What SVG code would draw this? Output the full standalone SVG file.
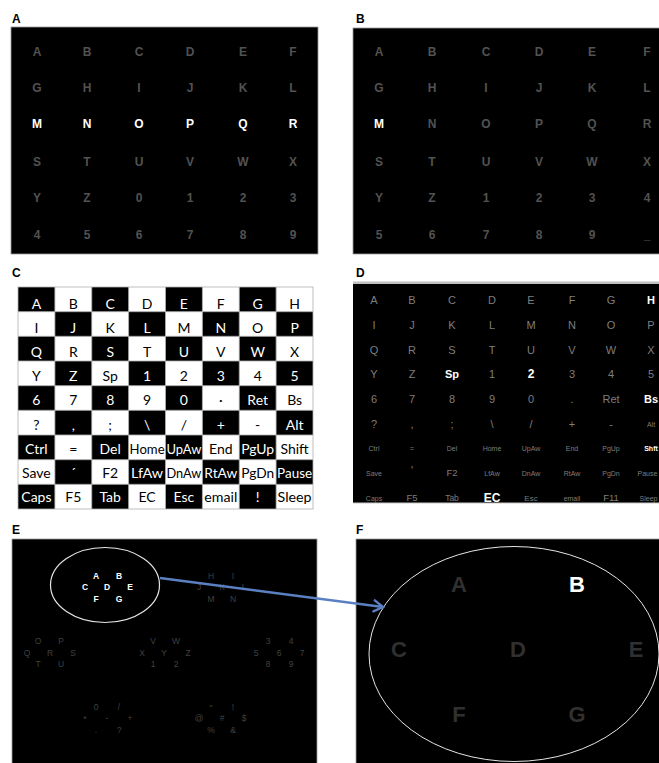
<svg xmlns="http://www.w3.org/2000/svg" width="659" height="763" viewBox="0 0 659 763">
<style>
.lbl{font-family:"Liberation Sans",Arial,sans-serif;font-weight:bold;font-size:12px;fill:#000}
.ab{font-family:"Liberation Sans",Arial,sans-serif;font-weight:bold;font-size:12px;text-anchor:middle}
.dimA{fill:#525252}
.hi{fill:#fff}
.c{font-family:Lato,"Liberation Sans",sans-serif;font-size:14px;text-anchor:middle}
.cw{fill:#fff}
.cb{fill:#000}
.d{font-family:"Liberation Sans",Arial,sans-serif;font-size:11px;text-anchor:middle;fill:#7e7e7e}
.ds{font-size:7px}
.dm{font-size:9.5px}
.dh{fill:#fff;font-weight:bold}
.e{font-family:"Liberation Sans",Arial,sans-serif;font-size:8.5px;text-anchor:middle;fill:#404040}
.eh{fill:#fff;font-weight:bold}
.f{font-family:"Liberation Sans",Arial,sans-serif;font-size:22px;font-weight:bold;text-anchor:middle;fill:#303030}
.panel{fill:#000;stroke:#9a9a9a;stroke-width:0.8}
</style>
<defs>
<marker id="arr" markerUnits="userSpaceOnUse" markerWidth="14" markerHeight="14" refX="11" refY="7" orient="auto">
<path d="M2,1.5 L11,7 L2,12.5" fill="none" stroke="#5b80c2" stroke-width="2.4" stroke-linecap="round"/>
</marker>
</defs>
<rect width="659" height="763" fill="#fff"/>

<g id="panelA">
<text class="lbl" x="12" y="23">A</text>
<rect class="panel" x="11" y="27" width="307" height="227"/>
<g class="ab dimA">
<text x="37" y="56">A</text><text x="87" y="56">B</text><text x="139" y="56">C</text><text x="190" y="56">D</text><text x="243" y="56">E</text><text x="293" y="56">F</text>
<text x="37" y="92">G</text><text x="87" y="92">H</text><text x="139" y="92">I</text><text x="190" y="92">J</text><text x="243" y="92">K</text><text x="293" y="92">L</text>
<text x="37" y="166">S</text><text x="87" y="166">T</text><text x="139" y="166">U</text><text x="190" y="166">V</text><text x="243" y="166">W</text><text x="293" y="166">X</text>
<text x="37" y="202">Y</text><text x="87" y="202">Z</text><text x="139" y="202">0</text><text x="190" y="202">1</text><text x="243" y="202">2</text><text x="293" y="202">3</text>
<text x="37" y="239">4</text><text x="87" y="239">5</text><text x="139" y="239">6</text><text x="190" y="239">7</text><text x="243" y="239">8</text><text x="293" y="239">9</text>
</g>
<g class="ab hi">
<text x="37" y="128">M</text><text x="87" y="128">N</text><text x="139" y="128">O</text><text x="190" y="128">P</text><text x="243" y="128">Q</text><text x="293" y="128">R</text>
</g>
</g>

<g id="panelB">
<text class="lbl" x="356" y="23">B</text>
<rect class="panel" x="353" y="28" width="310" height="226"/>
<g class="ab dimA">
<text x="379" y="56">A</text><text x="432" y="56">B</text><text x="486" y="56">C</text><text x="539" y="56">D</text><text x="592" y="56">E</text><text x="647" y="56">F</text>
<text x="379" y="92">G</text><text x="432" y="92">H</text><text x="486" y="92">I</text><text x="539" y="92">J</text><text x="592" y="92">K</text><text x="647" y="92">L</text>
<text x="432" y="128">N</text><text x="486" y="128">O</text><text x="539" y="128">P</text><text x="592" y="128">Q</text><text x="647" y="128">R</text>
<text x="379" y="166">S</text><text x="432" y="166">T</text><text x="486" y="166">U</text><text x="539" y="166">V</text><text x="592" y="166">W</text><text x="647" y="166">X</text>
<text x="379" y="202">Y</text><text x="432" y="202">Z</text><text x="486" y="202">1</text><text x="539" y="202">2</text><text x="592" y="202">3</text><text x="647" y="202">4</text>
<text x="379" y="239">5</text><text x="432" y="239">6</text><text x="486" y="239">7</text><text x="539" y="239">8</text><text x="592" y="239">9</text><text x="647" y="239">_</text>
</g>
<text class="ab hi" x="379" y="128">M</text>
</g>

<g id="panelC">
<text class="lbl" x="12" y="277">C</text>
<rect x="18" y="287" width="295" height="222" fill="#fff"/>
<g fill="#000">
<rect x="18" y="287" width="36.9" height="24.7"/><rect x="91.75" y="287" width="36.9" height="24.7"/><rect x="165.5" y="287" width="36.9" height="24.7"/><rect x="239.25" y="287" width="36.9" height="24.7"/>
<rect x="54.9" y="311.7" width="36.9" height="24.7"/><rect x="128.6" y="311.7" width="36.9" height="24.7"/><rect x="202.4" y="311.7" width="36.9" height="24.7"/><rect x="276.1" y="311.7" width="36.9" height="24.7"/>
<rect x="18" y="336.3" width="36.9" height="24.7"/><rect x="91.75" y="336.3" width="36.9" height="24.7"/><rect x="165.5" y="336.3" width="36.9" height="24.7"/><rect x="239.25" y="336.3" width="36.9" height="24.7"/>
<rect x="54.9" y="361" width="36.9" height="24.7"/><rect x="128.6" y="361" width="36.9" height="24.7"/><rect x="202.4" y="361" width="36.9" height="24.7"/><rect x="276.1" y="361" width="36.9" height="24.7"/>
<rect x="18" y="385.7" width="36.9" height="24.7"/><rect x="91.75" y="385.7" width="36.9" height="24.7"/><rect x="165.5" y="385.7" width="36.9" height="24.7"/><rect x="239.25" y="385.7" width="36.9" height="24.7"/>
<rect x="54.9" y="410.3" width="36.9" height="24.7"/><rect x="128.6" y="410.3" width="36.9" height="24.7"/><rect x="202.4" y="410.3" width="36.9" height="24.7"/><rect x="276.1" y="410.3" width="36.9" height="24.7"/>
<rect x="18" y="435" width="36.9" height="24.7"/><rect x="91.75" y="435" width="36.9" height="24.7"/><rect x="165.5" y="435" width="36.9" height="24.7"/><rect x="239.25" y="435" width="36.9" height="24.7"/>
<rect x="54.9" y="459.7" width="36.9" height="24.7"/><rect x="128.6" y="459.7" width="36.9" height="24.7"/><rect x="202.4" y="459.7" width="36.9" height="24.7"/><rect x="276.1" y="459.7" width="36.9" height="24.7"/>
<rect x="18" y="484.3" width="36.9" height="24.7"/><rect x="91.75" y="484.3" width="36.9" height="24.7"/><rect x="165.5" y="484.3" width="36.9" height="24.7"/><rect x="239.25" y="484.3" width="36.9" height="24.7"/>
</g>
<g stroke="#b0b0b0" stroke-width="0.8" fill="none">
<rect x="18" y="287" width="295" height="222"/>
<path d="M54.9,287V509M91.75,287V509M128.6,287V509M165.5,287V509M202.4,287V509M239.25,287V509M276.1,287V509M18,311.7H313M18,336.3H313M18,361H313M18,385.7H313M18,410.3H313M18,435H313M18,459.7H313M18,484.3H313"/>
</g>
<g class="c">
<text class="cw" x="36.4" y="309">A</text><text class="cb" x="73.3" y="309">B</text><text class="cw" x="110.2" y="309">C</text><text class="cb" x="147.1" y="309">D</text><text class="cw" x="183.9" y="309">E</text><text class="cb" x="220.8" y="309">F</text><text class="cw" x="257.7" y="309">G</text><text class="cb" x="294.6" y="309">H</text>
<text class="cb" x="36.4" y="333">I</text><text class="cw" x="73.3" y="333">J</text><text class="cb" x="110.2" y="333">K</text><text class="cw" x="147.1" y="333">L</text><text class="cb" x="183.9" y="333">M</text><text class="cw" x="220.8" y="333">N</text><text class="cb" x="257.7" y="333">O</text><text class="cw" x="294.6" y="333">P</text>
<text class="cw" x="36.4" y="357">Q</text><text class="cb" x="73.3" y="357">R</text><text class="cw" x="110.2" y="357">S</text><text class="cb" x="147.1" y="357">T</text><text class="cw" x="183.9" y="357">U</text><text class="cb" x="220.8" y="357">V</text><text class="cw" x="257.7" y="357">W</text><text class="cb" x="294.6" y="357">X</text>
<text class="cb" x="36.4" y="381">Y</text><text class="cw" x="73.3" y="381">Z</text><text class="cb" x="110.2" y="381">Sp</text><text class="cw" x="147.1" y="381">1</text><text class="cb" x="183.9" y="381">2</text><text class="cw" x="220.8" y="381">3</text><text class="cb" x="257.7" y="381">4</text><text class="cw" x="294.6" y="381">5</text>
<text class="cw" x="36.4" y="405">6</text><text class="cb" x="73.3" y="405">7</text><text class="cw" x="110.2" y="405">8</text><text class="cb" x="147.1" y="405">9</text><text class="cw" x="183.9" y="405">0</text><text class="cb" x="220.8" y="405">·</text><text class="cw" x="257.7" y="405">Ret</text><text class="cb" x="294.6" y="405">Bs</text>
<text class="cb" x="36.4" y="430">?</text><text class="cw" x="73.3" y="430">,</text><text class="cb" x="110.2" y="430">;</text><text class="cw" x="147.1" y="430">\</text><text class="cb" x="183.9" y="430">/</text><text class="cw" x="220.8" y="430">+</text><text class="cb" x="257.7" y="430">-</text><text class="cw" x="294.6" y="430">Alt</text>
<text class="cw" x="36.4" y="454">Ctrl</text><text class="cb" x="73.3" y="454">=</text><text class="cw" x="110.2" y="454">Del</text><text class="cb" x="147.1" y="454" textLength="35" lengthAdjust="spacingAndGlyphs">Home</text><text class="cw" x="183.9" y="454" textLength="35" lengthAdjust="spacingAndGlyphs">UpAw</text><text class="cb" x="220.8" y="454">End</text><text class="cw" x="257.7" y="454" textLength="33" lengthAdjust="spacingAndGlyphs">PgUp</text><text class="cb" x="294.6" y="454">Shift</text>
<text class="cb" x="36.4" y="478">Save</text><text class="cw" x="73.3" y="478">´</text><text class="cb" x="110.2" y="478">F2</text><text class="cw" x="147.1" y="478" textLength="32" lengthAdjust="spacingAndGlyphs">LfAw</text><text class="cb" x="183.9" y="478" textLength="35" lengthAdjust="spacingAndGlyphs">DnAw</text><text class="cw" x="220.8" y="478" textLength="33" lengthAdjust="spacingAndGlyphs">RtAw</text><text class="cb" x="257.7" y="478" textLength="33" lengthAdjust="spacingAndGlyphs">PgDn</text><text class="cw" x="294.6" y="478" textLength="35" lengthAdjust="spacingAndGlyphs">Pause</text>
<text class="cw" x="36.4" y="502">Caps</text><text class="cb" x="73.3" y="502">F5</text><text class="cw" x="110.2" y="502">Tab</text><text class="cb" x="147.1" y="502">EC</text><text class="cw" x="183.9" y="502">Esc</text><text class="cb" x="220.8" y="502" textLength="33" lengthAdjust="spacingAndGlyphs">email</text><text class="cw" x="257.7" y="502">!</text><text class="cb" x="294.6" y="502" textLength="34" lengthAdjust="spacingAndGlyphs">Sleep</text>
</g>
</g>

<g id="panelD">
<text class="lbl" x="356" y="277">D</text>
<rect x="353" y="283" width="310" height="220" fill="#000"/>
<rect x="353" y="281.5" width="310" height="2.5" fill="#c0c0c0"/>
<g class="d">
<text x="374" y="304">A</text><text x="412" y="304">B</text><text x="452" y="304">C</text><text x="492" y="304">D</text><text x="531" y="304">E</text><text x="572" y="304">F</text><text x="611" y="304">G</text>
<text x="374" y="329">I</text><text x="412" y="329">J</text><text x="452" y="329">K</text><text x="492" y="329">L</text><text x="531" y="329">M</text><text x="572" y="329">N</text><text x="611" y="329">O</text><text x="651" y="329">P</text>
<text x="374" y="354">Q</text><text x="412" y="354">R</text><text x="452" y="354">S</text><text x="492" y="354">T</text><text x="531" y="354">U</text><text x="572" y="354">V</text><text x="611" y="354">W</text><text x="651" y="354">X</text>
<text x="374" y="378">Y</text><text x="412" y="378">Z</text><text x="492" y="378">1</text><text x="572" y="378">3</text><text x="611" y="378">4</text><text x="651" y="378">5</text>
<text x="374" y="403">6</text><text x="412" y="403">7</text><text x="452" y="403">8</text><text x="492" y="403">9</text><text x="531" y="403">0</text><text x="572" y="403">.</text><text x="611" y="403">Ret</text>
<text x="374" y="428">?</text><text x="412" y="428">,</text><text x="452" y="428">;</text><text x="492" y="428">\</text><text x="531" y="428">/</text><text x="572" y="428">+</text><text x="611" y="428">-</text><text class="ds" x="651" y="427">Alt</text>
<text class="ds" x="374" y="451">Ctrl</text><text class="ds" x="412" y="451">=</text><text class="ds" x="452" y="451">Del</text><text class="ds" x="492" y="451">Home</text><text class="ds" x="531" y="451">UpAw</text><text class="ds" x="572" y="451">End</text><text class="ds" x="611" y="451">PgUp</text>
<text class="ds" x="374" y="476">Save</text><text x="412" y="474">'</text><text class="dm" x="452" y="476">F2</text><text class="ds" x="492" y="476">LfAw</text><text class="ds" x="531" y="476">DnAw</text><text class="ds" x="572" y="476">RtAw</text><text class="ds" x="611" y="476">PgDn</text><text class="ds" x="647.5" y="476">Pause</text>
<text class="ds" x="374" y="501">Caps</text><text class="dm" x="412" y="501">F5</text><text class="dm" x="452" y="501" style="font-size:8.5px">Tab</text><text class="ds" x="531" y="501" style="font-size:8px">Esc</text><text class="ds" x="572" y="501">email</text><text class="dm" x="611" y="501">F11</text><text class="ds" x="648.5" y="501">Sleep</text>
</g>
<g class="d dh">
<text x="651" y="304">H</text>
<text x="452" y="378">Sp</text><text x="531" y="378" style="font-size:12px">2</text>
<text x="651" y="403">Bs</text>
<text class="ds" x="651" y="451">Shft</text>
<text x="492" y="502" style="font-size:12px">EC</text>
</g>
<rect x="353" y="502.5" width="310" height="1" fill="#c8c8c8"/>
</g>

<g id="panelE">
<text class="lbl" x="12" y="534">E</text>
<rect class="panel" x="12" y="539" width="305" height="226"/>
<ellipse cx="105" cy="585" rx="54.5" ry="37.5" fill="none" stroke="#e6e6e6" stroke-width="1.2"/>
<g class="e eh">
<text x="96" y="579">A</text><text x="119" y="579">B</text><text x="85" y="590">C</text><text x="107" y="590">D</text><text x="130" y="590">E</text><text x="96" y="602">F</text><text x="119" y="602">G</text>
</g>
<g class="e">
<text x="211" y="579">H</text><text x="233" y="579">I</text><text x="199" y="590">J</text><text x="222" y="590">K</text><text x="244" y="590">L</text><text x="211" y="602">M</text><text x="233" y="602">N</text>
<text x="38" y="644">O</text><text x="61" y="644">P</text><text x="27" y="656">Q</text><text x="50" y="656">R</text><text x="73" y="656">S</text><text x="38" y="667">T</text><text x="61" y="667">U</text>
<text x="153" y="644">V</text><text x="176" y="644">W</text><text x="142" y="656">X</text><text x="164" y="656">Y</text><text x="188" y="656">Z</text><text x="153" y="667">1</text><text x="176" y="667">2</text>
<text x="268" y="644">3</text><text x="291" y="644">4</text><text x="256" y="656">5</text><text x="279" y="656">6</text><text x="302" y="656">7</text><text x="268" y="667">8</text><text x="291" y="667">9</text>
<text x="96" y="710">0</text><text x="119" y="710">/</text><text x="85" y="722">*</text><text x="107" y="721">-</text><text x="130" y="721">+</text><text x="96" y="733">.</text><text x="119" y="733">?</text>
<text x="211" y="711">"</text><text x="233" y="710">!</text><text x="199" y="721">@</text><text x="222" y="721">#</text><text x="244" y="721">$</text><text x="211" y="733">%</text><text x="233" y="733">&amp;</text>
</g>
</g>

<g id="panelF">
<text class="lbl" x="356" y="534">F</text>
<rect x="356" y="539" width="307" height="226" fill="#000" stroke="#9a9a9a" stroke-width="0.8"/>
<ellipse cx="514" cy="654" rx="145" ry="107.5" fill="none" stroke="#e6e6e6" stroke-width="1"/>
<g class="f">
<text x="459" y="592">A</text>
<text x="399" y="657">C</text><text x="518" y="657">D</text><text x="636" y="657">E</text>
<text x="459" y="722">F</text><text x="577" y="722">G</text>
</g>
<text class="f" x="577" y="592" style="fill:#fff">B</text>
</g>

<g id="connectors">
<path d="M160,578 L383,607" fill="none" stroke="#5b80c2" stroke-width="2.4" marker-end="url(#arr)"/>
</g>
</svg>
